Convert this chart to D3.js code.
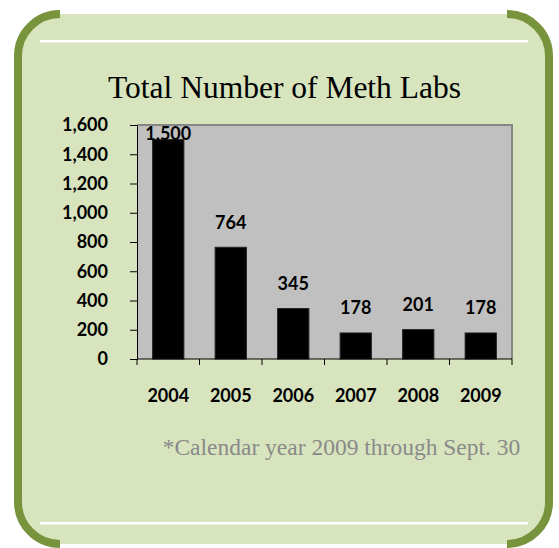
<!DOCTYPE html>
<html>
<head>
<meta charset="utf-8">
<script src="https://cdn.jsdelivr.net/npm/d3@7"></script>
<style>
  body { margin: 0; background: #fff; }
  svg { display: block; }
</style>
</head>
<body>
<div id="chart"></div>
<script>
// chart values
const years = ["2004", "2005", "2006", "2007", "2008", "2009"];
const labs = [1500, 764, 345, 178, 201, 178];
const yTicks = [0, 200, 400, 600, 800, 1000, 1200, 1400, 1600];
const title = "Total Number of Meth Labs";
const note = "*Calendar year 2009 through Sept. 30";

function methChart() {
  let W = 559, H = 548;
  let plot = {left: 137, right: 512, top: 125, bottom: 359};
  let labelFont = "Lato, 'Open Sans', sans-serif";

  let svg = d3.select("#chart")
    .append("svg")
    .attr("width", W)
    .attr("height", H);

  // panel with green brackets on both sides
  svg.append("rect")
    .attr("x", 18).attr("y", 14)
    .attr("width", 531).attr("height", 530)
    .attr("rx", 42).attr("ry", 42)
    .style("fill", "#d7e4bd");

  let r = 42;
  svg.append("path")
    .attr("d", "M" + (18 + r) + ",14 A" + r + "," + r + " 0 0 0 18," + (14 + r) +
               " L18," + (544 - r) + " A" + r + "," + r + " 0 0 0 " + (18 + r) + ",544")
    .style("fill", "none").style("stroke", "#77933c").style("stroke-width", 8);
  svg.append("path")
    .attr("d", "M" + (549 - r) + ",14 A" + r + "," + r + " 0 0 1 549," + (14 + r) +
               " L549," + (544 - r) + " A" + r + "," + r + " 0 0 1 " + (549 - r) + ",544")
    .style("fill", "none").style("stroke", "#77933c").style("stroke-width", 8);

  // white rules
  svg.append("rect").attr("x", 40).attr("y", 40).attr("width", 488).attr("height", 2.5).style("fill", "#fff");
  svg.append("rect").attr("x", 40).attr("y", 522).attr("width", 488).attr("height", 2.5).style("fill", "#fff");

  // title
  svg.append("text")
    .attr("x", 284.5).attr("y", 98)
    .attr("text-anchor", "middle")
    .style("font-family", "'Liberation Serif', 'Times New Roman', serif")
    .style("font-size", "31.5px")
    .style("fill", "#000")
    .text(title);

  // scales
  let x = d3.scaleBand()
    .domain(years)
    .range([plot.left, plot.right])
    .paddingInner(0.5)
    .paddingOuter(0.25);

  let y = d3.scaleLinear()
    .domain([0, 1600])
    .range([plot.bottom, plot.top]);

  // plot area
  svg.append("rect")
    .attr("x", plot.left).attr("y", plot.top)
    .attr("width", plot.right - plot.left).attr("height", plot.bottom - plot.top)
    .style("fill", "#c0c0c0");
  svg.append("path")
    .attr("d", "M" + plot.left + "," + plot.top + " H" + plot.right + " V" + plot.bottom)
    .style("fill", "none").style("stroke", "#868686").style("stroke-width", 2);

  // bars
  svg.append("g")
    .selectAll("rect")
    .data(labs)
    .enter()
    .append("rect")
      .attr("x", function(d, i) { return x(years[i]); })
      .attr("y", function(d) { return y(d); })
      .attr("width", x.bandwidth())
      .attr("height", function(d) { return y(0) - y(d); })
      .style("fill", "#000")
      .style("stroke", "#222")
      .style("stroke-width", 1);

  // bar labels (kept inside the plot area like Excel does)
  svg.append("g")
    .selectAll("text")
    .data(labs)
    .enter()
    .append("text")
      .attr("x", function(d, i) { return x(years[i]) + x.bandwidth() / 2; })
      .attr("y", function(d) { return Math.max(y(d) - 18.5, y(1600) + 14.5); })
      .attr("text-anchor", "middle")
      .style("font-family", labelFont)
      .style("font-weight", "bold")
      .style("font-size", "18px")
      .style("fill", "#000")
      .text(function(d) { return d3.format(",")(d); });

  // y axis
  let yAxis = svg.append("g")
    .attr("transform", "translate(" + plot.left + ",0)")
    .call(d3.axisLeft(y).tickValues(yTicks).tickSize(7).tickSizeOuter(0).tickPadding(22).tickFormat(d3.format(",")));
  yAxis.selectAll("text")
    .style("font-family", labelFont)
    .style("font-weight", "bold")
    .style("font-size", "18px")
    .style("fill", "#000");
  yAxis.selectAll("line").style("stroke", "#000");
  yAxis.select(".domain").style("stroke", "#000");

  // x axis line + ticks on category boundaries
  let gap = (x.step() - x.bandwidth()) / 2;
  let edges = years.map(function(d) { return x(d) - gap; }).concat([plot.right]);
  let xAxis = svg.append("g");
  xAxis.append("line")
    .attr("x1", plot.left).attr("x2", plot.right)
    .attr("y1", y(0)).attr("y2", y(0))
    .style("stroke", "#000");
  xAxis.selectAll(".edge")
    .data(edges)
    .enter()
    .append("line")
      .attr("class", "edge")
      .attr("x1", function(d) { return d; }).attr("x2", function(d) { return d; })
      .attr("y1", y(0)).attr("y2", y(0) + 6)
      .style("stroke", "#000");

  let xLabels = svg.append("g")
    .attr("transform", "translate(0," + y(0) + ")")
    .call(d3.axisBottom(x).tickSize(0).tickPadding(30));
  xLabels.select(".domain").remove();
  xLabels.selectAll("text")
    .style("font-family", labelFont)
    .style("font-weight", "bold")
    .style("font-size", "18px")
    .style("fill", "#000");

  // footnote
  svg.append("text")
    .attr("x", 341.5).attr("y", 455)
    .attr("text-anchor", "middle")
    .style("font-family", "'Liberation Serif', 'Times New Roman', serif")
    .style("font-size", "23.5px")
    .style("fill", "#8a8a8a")
    .text(note);
}

methChart();
</script>
</body>
</html>
